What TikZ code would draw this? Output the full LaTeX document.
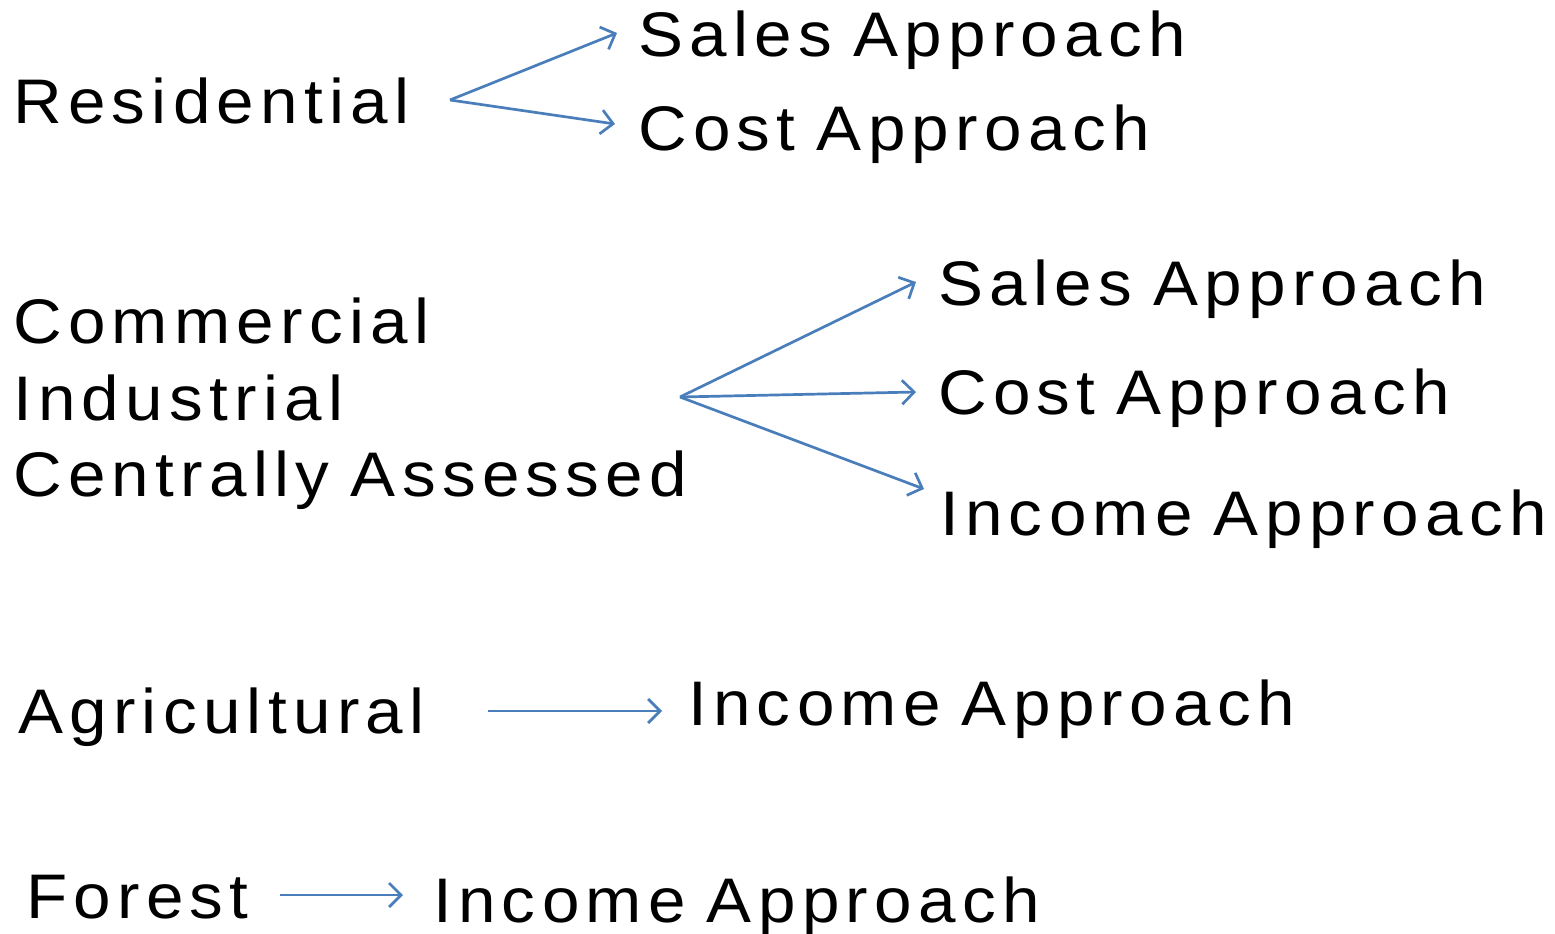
\documentclass[tikz,border=0pt]{standalone}
\usepackage{fontspec}
\setmainfont[LetterSpace=10,FakeStretch=1.07,WordSpace=0.85]{Liberation Sans}
\usetikzlibrary{arrows.meta}
\definecolor{arrowblue}{HTML}{4A7EBB}
\begin{document}
\begin{tikzpicture}[x=1pt,y=-1pt,
  label/.style={anchor=base west,inner sep=0pt,font=\fontsize{63}{75}\selectfont},
  link/.style={draw=arrowblue,line width=2.7pt,line join=miter,
    -{Straight Barb[length=12pt,width=24pt,line width=2.7pt]}}]
\useasboundingbox (0,0) rectangle (1555,934);

% residential
\node[label] (res) at (13,123) {Residential};
\node[label] (resS) at (638,57) {Sales Approach};
\node[label] (resC) at (638,150) {Cost Approach};
\coordinate (resO) at (450,100);
\coordinate (resSi) at (617,33);
\coordinate (resCi) at (615,124);
\draw[link] (resO) -- (resSi);
\draw[link] (resO) -- (resCi);

% commercial / industrial / centrally assessed
\node[label] (com) at (13,343) {Commercial};
\node[label] (ind) at (13,420) {Industrial};
\node[label] (cen) at (13,496) {Centrally Assessed};
\node[label] (comS) at (938,305) {Sales Approach};
\node[label] (comC) at (938,414) {Cost Approach};
\node[label] (comI) at (940,535) {Income Approach};
\coordinate (comO) at (680,397);
\coordinate (comSi) at (916,282);
\coordinate (comCi) at (916,392);
\coordinate (comIi) at (924,489);
\draw[link] (comO) -- (comSi);
\draw[link] (comO) -- (comCi);
\draw[link] (comO) -- (comIi);

% agricultural
\node[label] (agr) at (18,733) {Agricultural};
\node[label] (agrI) at (688,725) {Income Approach};
\coordinate (agrO) at (488,711);
\coordinate (agrIi) at (662,711);
\draw[link] (agrO) -- (agrIi);

% forest
\node[label] (for) at (26,918) {Forest};
\node[label] (forI) at (433,922) {Income Approach};
\coordinate (forO) at (280,895);
\coordinate (forIi) at (403,895);
\draw[link] (forO) -- (forIi);
\end{tikzpicture}
\end{document}
